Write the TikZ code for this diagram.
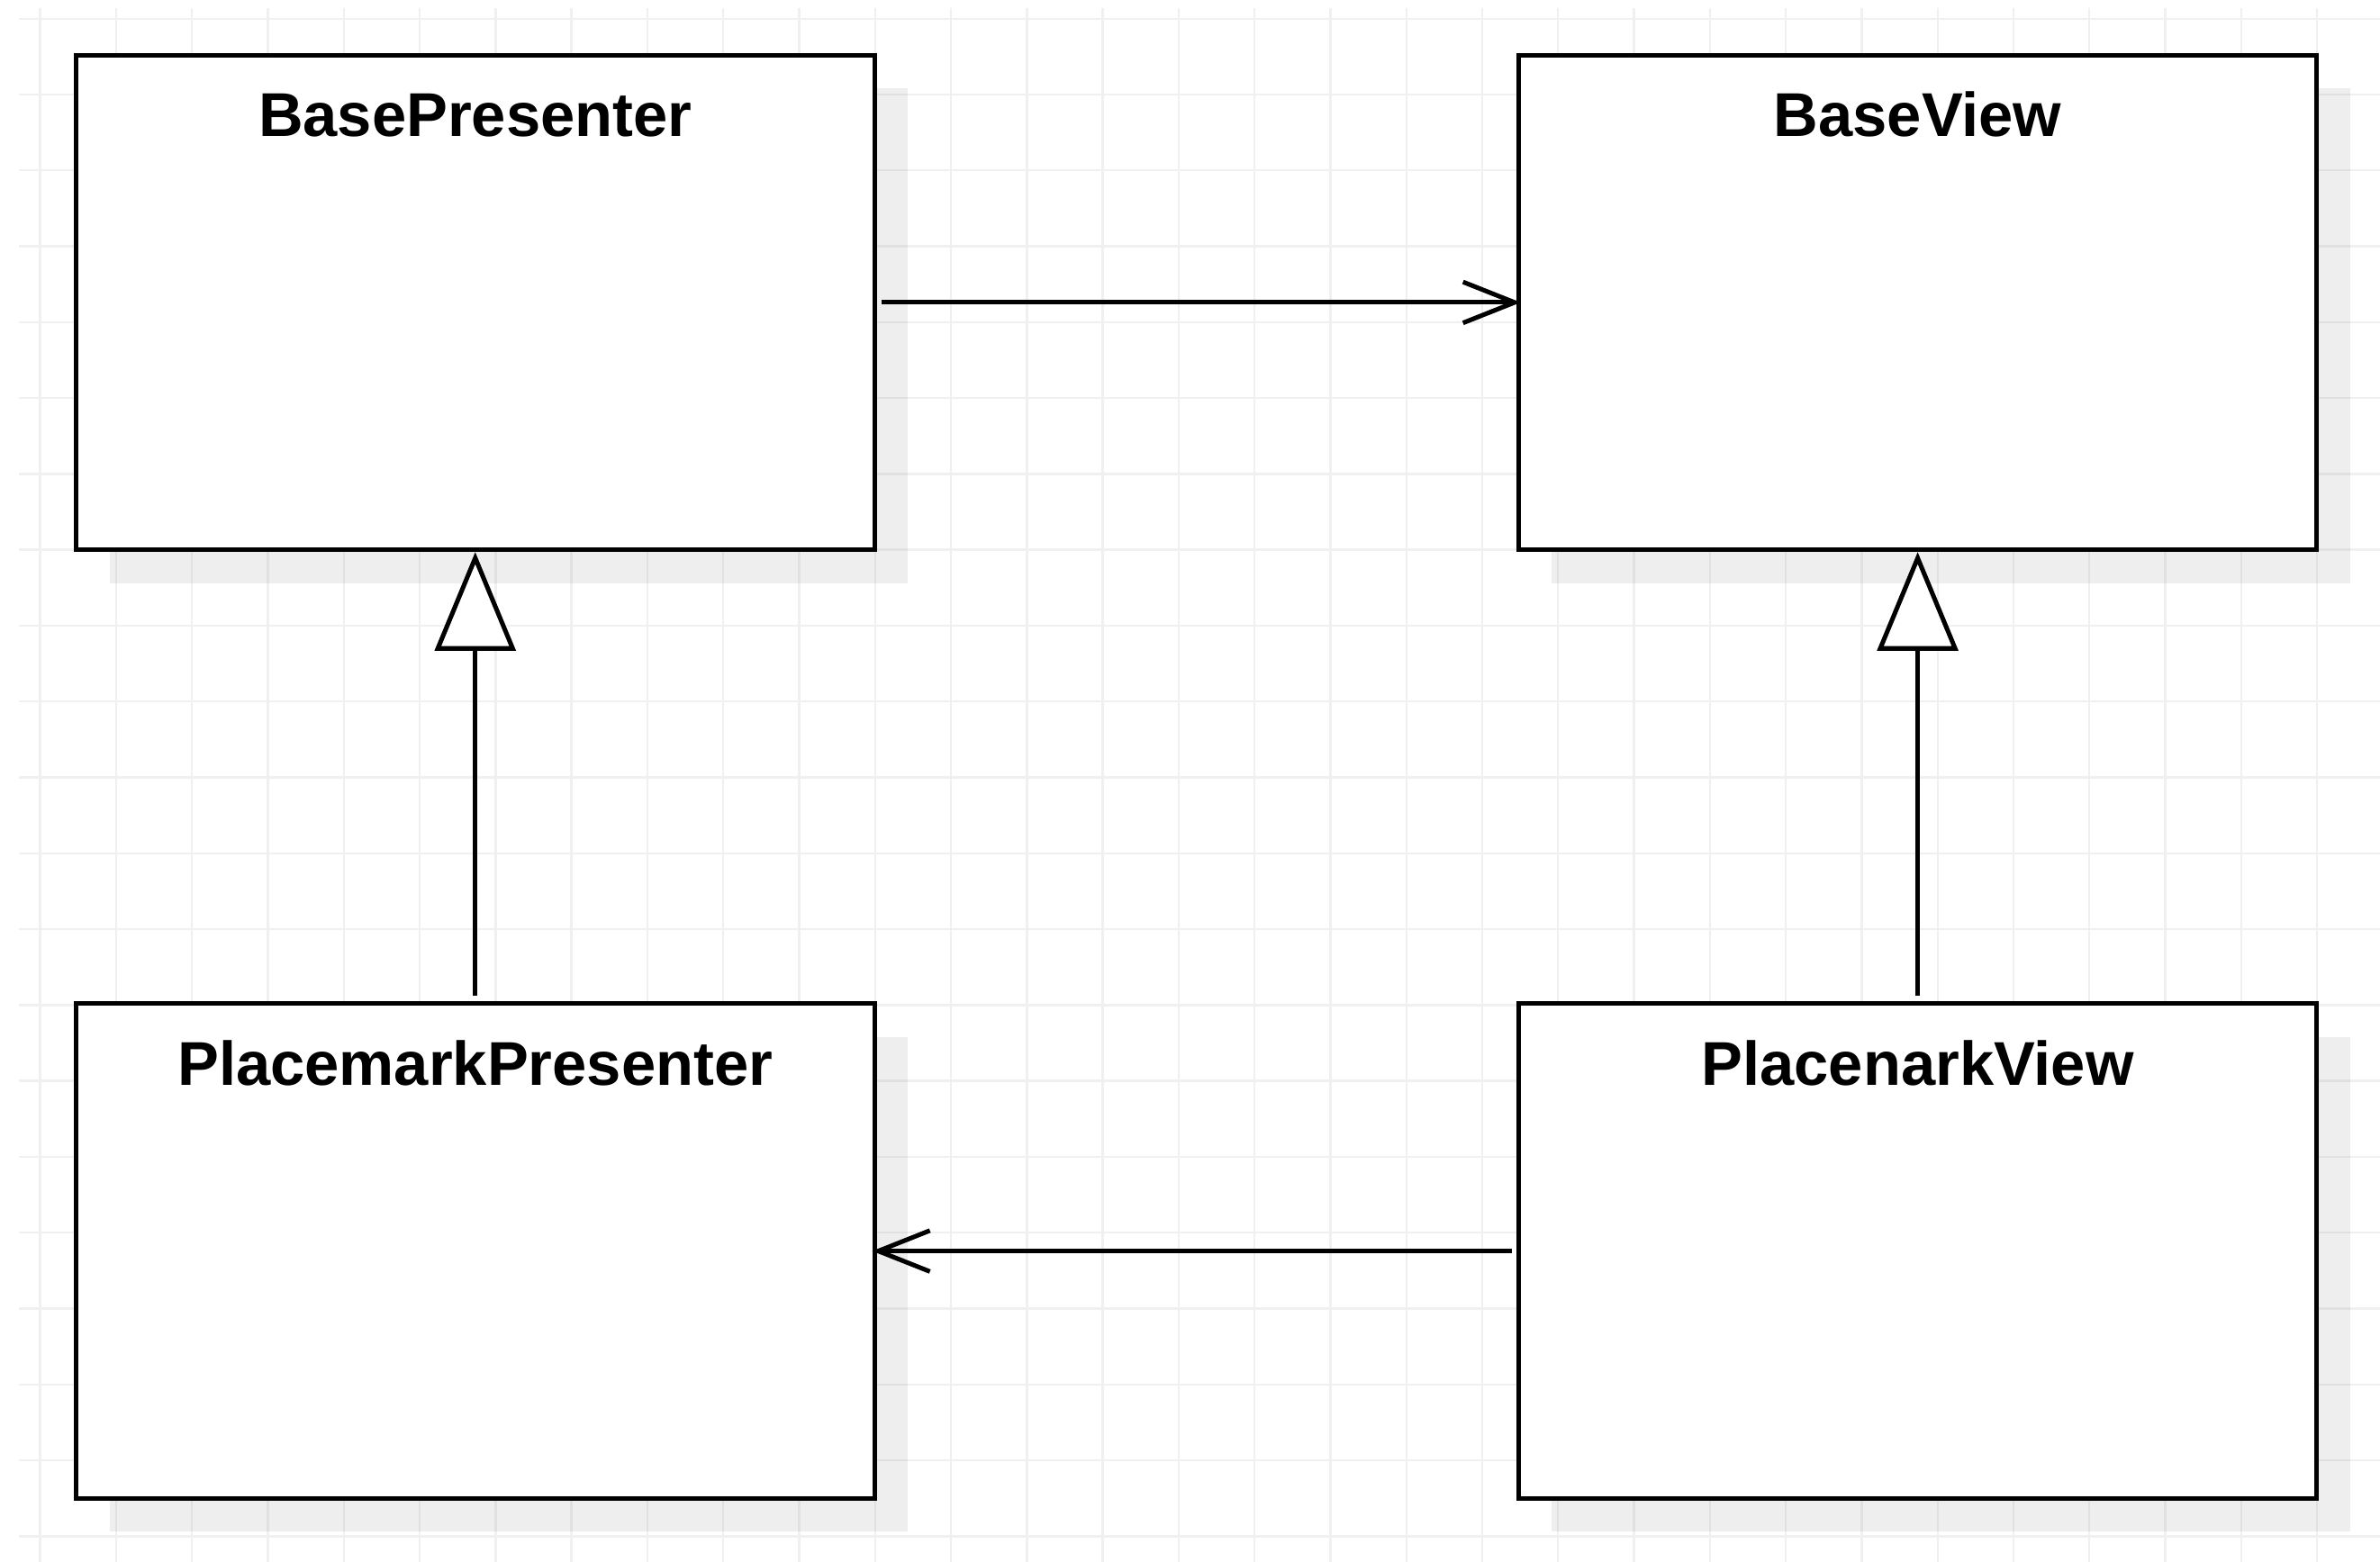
\documentclass[tikz,border=0pt]{standalone}
\usepackage{fontspec}
\setmainfont{Liberation Sans}
\usepackage{tikz}
\usetikzlibrary{arrows.meta,positioning,calc,shadows}
\definecolor{ink}{HTML}{000000}
\definecolor{gridline}{HTML}{F0F0F0}
\tikzset{
  umlclass/.style={draw=ink, fill=white, line width=0.85pt, minimum width=5.26cm,
                   minimum height=3.26cm, inner sep=0pt,
                   drop shadow={shadow xshift=0.22cm, shadow yshift=-0.22cm,
                                opacity=0.065, fill=black}},
  classname/.style={anchor=base, font=\fontsize{11.6}{13.9}\selectfont\bfseries,
                    text=ink, inner sep=0pt},
  assoc/.style={-{Straight Barb[length=3.4mm, width=2.7mm]}, line width=0.85pt,
                draw=ink, shorten <=0.3mm, shorten >=-0.3mm},
  inherit/.style={-{Triangle[length=6.5mm, width=5.3mm, fill=white]}, line width=0.85pt,
                  draw=ink, shorten <=0.35mm}
}

\begin{document}
\begin{tikzpicture}[x=1cm,y=1cm]
  \useasboundingbox (0,0) rectangle (15.68,10.293);
  \fill[white] (0,0) rectangle (15.68,10.293);

  % background grid
  \foreach \y in {0.17,0.67,...,10.17}
    {\draw[gridline,line width=0.4pt] (0.125,\y) -- (15.68,\y);}
  \foreach \x in {0.265,0.765,...,15.3}
    {\draw[gridline,line width=0.4pt] (\x,0) -- (\x,10.238);}

  % classes
  \node[umlclass] (bp) at (3.131,8.300) {};
  \node[umlclass] (bv) at (12.634,8.300) {};
  \node[umlclass] (pp) at (3.131,2.049) {};
  \node[umlclass] (pv) at (12.634,2.049) {};

  \node[classname] (bpname) at ($(bp.north)+(0,-0.55)$) {BasePresenter};
  \node[classname] (bvname) at ($(bv.north)+(0,-0.55)$) {BaseView};
  \node[classname] (ppname) at ($(pp.north)+(0,-0.55)$) {PlacemarkPresenter};
  \node[classname] (pvname) at ($(pv.north)+(0,-0.55)$) {PlacenarkView};

  % relations
  \draw[assoc] (bp.east) -- (bv.west);
  \draw[assoc] (pv.west) -- (pp.east);
  \draw[inherit] (pp.north) -- (bp.south);
  \draw[inherit] (pv.north) -- (bv.south);
\end{tikzpicture}
\end{document}
